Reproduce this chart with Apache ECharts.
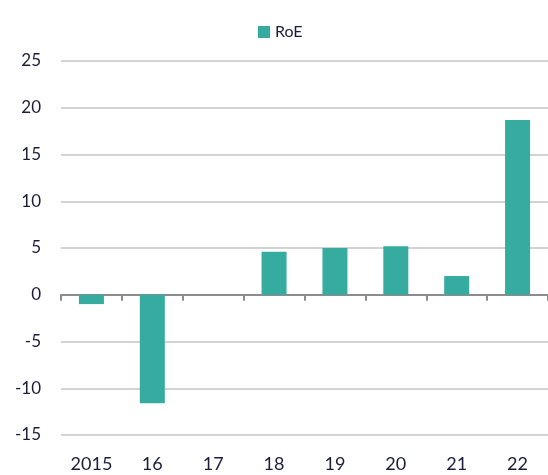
<!DOCTYPE html>
<html>
<head>
<meta charset="utf-8">
<script src="https://cdn.jsdelivr.net/npm/echarts@6/dist/echarts.min.js"></script>
<style>
  html, body { margin: 0; padding: 0; background: #fff; }
  #chart { width: 548px; height: 475px; }
</style>
</head>
<body>
<div id="chart"></div>
<script>
// 数据
const years = ['2015', '16', '17', '18', '19', '20', '21', '22'];
const roe = [-1.0, -11.6, 0, 4.6, 5.0, 5.2, 2.0, 18.7];

const textColor = '#1c1c3c';
const chart = echarts.init(document.getElementById('chart'));

chart.setOption({
  animation: false,
  textStyle: { fontFamily: 'Lato' },
  legend: {
    data: ['RoE'],
    icon: 'rect',
    left: 253,
    top: 19,
    itemWidth: 12,
    itemHeight: 12,
    itemGap: 5,
    textStyle: { fontSize: 16, color: textColor, fontFamily: 'Lato' }
  },
  grid: {
    left: 61,
    right: -9,
    top: 61,
    bottom: 40
  },
  xAxis: [
    {
      type: 'category',
      data: years,
      axisLine: { onZero: true, lineStyle: { color: '#8c8c8c', width: 2 } },
      axisTick: { show: true, length: 6, lineStyle: { color: '#8c8c8c', width: 2 } },
      axisLabel: { show: false }
    },
    {
      type: 'category',
      data: years,
      position: 'bottom',
      axisLine: { show: false },
      axisTick: { show: false },
      axisLabel: { margin: 20, fontSize: 18, color: textColor, fontFamily: 'Lato' }
    }
  ],
  yAxis: {
    type: 'value',
    min: -15,
    max: 25,
    interval: 5,
    axisLine: { show: false },
    axisTick: { show: false },
    axisLabel: { margin: 20, fontSize: 17, color: textColor, fontFamily: 'Lato' },
    splitLine: { lineStyle: { color: '#c4c4c4', width: 1.5 } }
  },
  series: [
    {
      name: 'RoE',
      type: 'bar',
      xAxisIndex: 0,
      data: roe,
      barWidth: 25,
      itemStyle: { color: '#36aba0' }
    }
  ]
});
</script>
</body>
</html>
